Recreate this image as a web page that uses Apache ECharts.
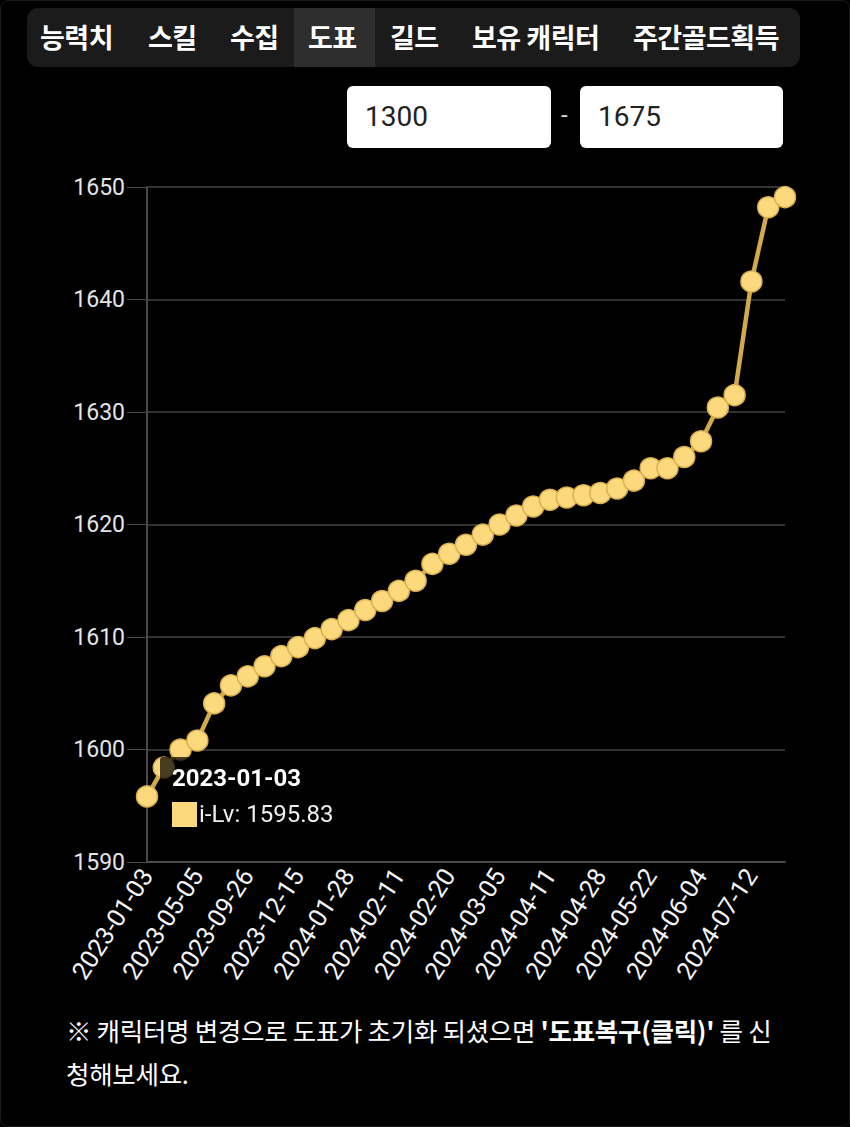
<!DOCTYPE html>
<html><head><meta charset="utf-8">
<script src="https://cdn.jsdelivr.net/npm/echarts@6/dist/echarts.min.js"></script>
<style>
html,body{margin:0;padding:0;background:#000;width:850px;height:1127px;overflow:hidden;font-family:Roboto,"Noto Sans CJK KR",sans-serif;}
#chart{position:absolute;left:0;top:0;width:850px;height:1127px;}
.tabs{position:absolute;left:27px;top:8px;width:773px;height:59px;background:#1b1b1b;border-radius:11px;z-index:2;}
.hl{position:absolute;left:267px;top:0;width:81px;height:59px;background:#2e2e2e;}
.tab{position:absolute;top:0;height:59px;line-height:58px;color:#fff;font-weight:bold;font-size:27px;font-family:"Noto Sans CJK KR",sans-serif;white-space:nowrap;letter-spacing:-0.5px;}
.inp{position:absolute;top:86px;height:62px;background:#fff;border-radius:6px;z-index:2;font-size:28px;color:#222;line-height:62px;box-sizing:border-box;padding-left:18px;}
.dash{position:absolute;left:561px;top:84px;line-height:62px;color:#ddd;font-size:24px;z-index:2;}
.note{position:absolute;left:66px;top:1008px;width:740px;color:#fff;font-size:25.5px;line-height:43px;font-family:"Noto Sans CJK KR",sans-serif;z-index:2;white-space:nowrap;letter-spacing:-0.3px;}
.frame{position:absolute;left:0;top:0;width:848px;height:1125px;border:1px solid #1a1a1a;border-radius:8px;pointer-events:none;}
</style></head>
<body>
<div class="frame"></div>
<div id="chart"></div>
<div class="tabs">
  <div class="hl"></div>
  <div class="tab" style="left:13px;">능력치</div>
  <div class="tab" style="left:121px;">스킬</div>
  <div class="tab" style="left:203px;">수집</div>
  <div class="tab" style="left:281px;">도표</div>
  <div class="tab" style="left:363px;">길드</div>
  <div class="tab" style="left:445px;">보유 캐릭터</div>
  <div class="tab" style="left:606px;">주간골드획득</div>
</div>
<div class="inp" style="left:347px;width:204px;">1300</div>
<div class="dash">-</div>
<div class="inp" style="left:580px;width:203px;">1675</div>
<div class="note">※ 캐릭터명 변경으로 도표가 초기화 되셨으면 <b>'도표복구(클릭)'</b> 를 신<br>청해보세요.</div>
<script>
const dates = [
 '2023-01-03','2023-02-14','2023-03-22','2023-05-05','2023-06-28','2023-08-16',
 '2023-09-26','2023-10-25','2023-11-22','2023-12-15','2024-01-03','2024-01-17',
 '2024-01-28','2024-02-01','2024-02-07','2024-02-11','2024-02-14','2024-02-17',
 '2024-02-20','2024-02-24','2024-02-29','2024-03-05','2024-03-14','2024-03-27',
 '2024-04-11','2024-04-17','2024-04-23','2024-04-28','2024-05-06','2024-05-15',
 '2024-05-22','2024-05-26','2024-05-30','2024-06-04','2024-06-19','2024-07-03',
 '2024-07-12','2024-07-19','2024-07-25'
];
const itemLevels = [
 1595.83,1598.4,1600.0,1600.8,1604.1,1605.7,
 1606.5,1607.4,1608.3,1609.1,1609.9,1610.7,
 1611.5,1612.4,1613.2,1614.1,1615.0,1616.5,
 1617.4,1618.2,1619.1,1620.0,1620.8,1621.6,
 1622.2,1622.4,1622.6,1622.8,1623.2,1623.9,
 1625.0,1625.0,1626.0,1627.4,1630.4,1631.5,
 1641.6,1648.2,1649.1
];
const yTicks = {min:1590, max:1650, interval:10};
const seriesName = 'i-Lv';

const chart = echarts.init(document.getElementById('chart'), null, {renderer:'svg'});
chart.setOption({
  backgroundColor:'transparent',
  animation:false,
  grid:{left:147, right:65, top:187, bottom:265},
  tooltip:{
    trigger:'item', triggerOn:'none', alwaysShowContent:true,
    position:[160,757],
    backgroundColor:'rgba(0,0,0,0.72)', borderWidth:0,
    padding:[7,10,6,12], extraCssText:'box-shadow:none;border-radius:3px;',
    formatter:function(p){
      return '<div style="font-family:Roboto,sans-serif;color:#fff;font-weight:bold;font-size:24px;line-height:28px;">'+p.name+'</div>'+
        '<div style="font-family:Roboto,sans-serif;color:#eee;font-size:24px;line-height:44px;display:flex;align-items:center;">'+
        '<span style="display:inline-block;width:25px;height:25px;background:#fcd97c;margin-right:2px;"></span>'+
        p.seriesName+': '+p.value+'</div>';
    }
  },
  xAxis:{
    type:'category', data:dates, boundaryGap:false,
    axisLine:{lineStyle:{color:'#4a4a4a',width:2}},
    axisTick:{show:false},
    axisLabel:{interval:2, rotate:57, color:'#f4f4f4', fontSize:25, fontFamily:'Roboto', margin:9}
  },
  yAxis:{
    type:'value', min:yTicks.min, max:yTicks.max, interval:yTicks.interval,
    axisLine:{show:true, lineStyle:{color:'#4a4a4a',width:2}},
    axisTick:{show:true, length:20, lineStyle:{color:'#4a4a4a'}},
    axisLabel:{color:'#e4e4e4', fontSize:23, fontFamily:'Roboto', margin:22, formatter:function(v){return String(v);}},
    splitLine:{lineStyle:{color:'#333',width:2}}
  },
  series:[{
    name:seriesName, type:'line', data:itemLevels,
    symbol:'circle', symbolSize:21, showAllSymbol:true,
    lineStyle:{color:'#d3aa48', width:4.5},
    itemStyle:{color:'#fcd97c', borderColor:'#d9b050', borderWidth:1.5},
    emphasis:{disabled:true}
  }]
});
setTimeout(function(){chart.dispatchAction({type:'showTip', seriesIndex:0, dataIndex:0});},50);
</script>
</body></html>
